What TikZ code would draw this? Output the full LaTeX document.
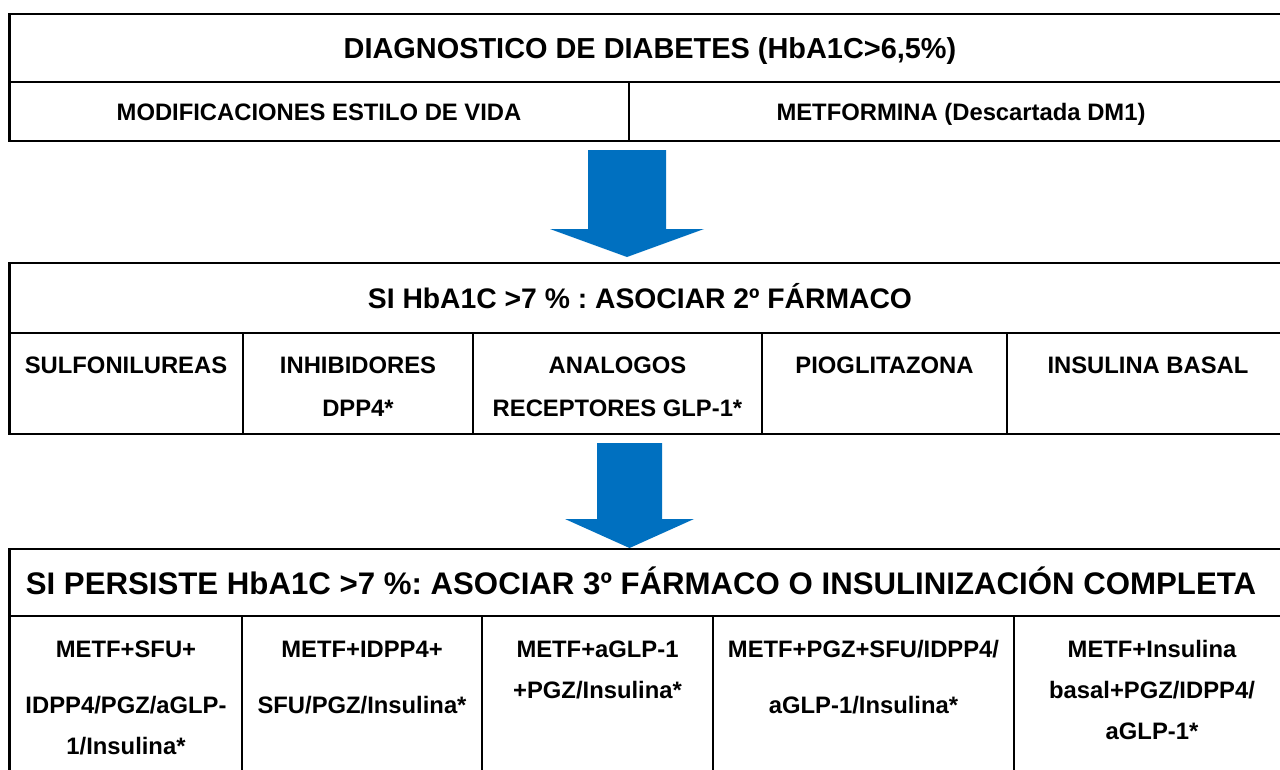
\documentclass[tikz,border=0pt]{standalone}
\usepackage{fontspec}
\setmainfont{Liberation Sans}
\frenchspacing
\definecolor{arrowblue}{RGB}{0,112,192}
\begin{document}
\begin{tikzpicture}[x=1pt,y=-1pt,
  grid/.style={line width=2.8pt, black, line join=miter},
  bigtitle/.style={font=\bfseries\fontsize{#1}{#1}\selectfont, inner sep=0pt, anchor=base},
  rowtext/.style={font=\bfseries\fontsize{23.8}{43}\selectfont, inner sep=0pt, anchor=base},
  celltwo/.style={font=\bfseries\fontsize{23.8}{43}\selectfont, align=center, inner sep=0pt, anchor=north},
  cellthree/.style={font=\bfseries\fontsize{23.8}{41}\selectfont, align=center, inner sep=0pt, anchor=north},
  blockarrow/.style={fill=arrowblue}]
\useasboundingbox (0,0) rectangle (1280,769);
\clip (0,0) rectangle (1280,769);
\fill[white] (0,0) rectangle (1280,769);

% ---------- Table 1 ----------
\draw[grid] (1300,14) -- (9.5,14) -- (9.5,141) -- (1300,141);
\draw[grid] (9.5,82) -- (1300,82);
\draw[grid] (629,82) -- (629,141);
\node[bigtitle=28.9] (diag) at (650,58.3) {DIAGNOSTICO DE DIABETES (HbA1C>6,5\%)};
\node[rowtext] (modif) at (319,120.5) {MODIFICACIONES ESTILO DE VIDA};
\node[rowtext] (metf) at (961,120.5) {METFORMINA (Descartada DM1)};

% ---------- Arrow 1 ----------
\fill[blockarrow] (588,150) -- (666,150) -- (666,229) -- (704,229) -- (627,257) -- (550,229) -- (588,229) -- cycle;

% ---------- Table 2 ----------
\draw[grid] (1300,263) -- (9.5,263) -- (9.5,434) -- (1300,434);
\draw[grid] (9.5,333) -- (1300,333);
\foreach \x in {243,473,762,1007} \draw[grid] (\x,333) -- (\x,434);
\node[bigtitle=28.3] (second) at (640,308) {SI HbA1C >7 \% : ASOCIAR 2º FÁRMACO};
\node[celltwo] (sfu) at (126,356.5) {SULFONILUREAS};
\node[celltwo] (dpp) at (358,356.5) {INHIBIDORES\\DPP4*};
\node[celltwo] (glp) at (617.5,356.5) {ANALOGOS\\RECEPTORES GLP-1*};
\node[celltwo] (pgz) at (884.5,356.5) {PIOGLITAZONA};
\node[celltwo] (ins) at (1148,356.5) {INSULINA BASAL};

% ---------- Arrow 2 ----------
\fill[blockarrow] (597,443) -- (662,443) -- (662,519) -- (694,519) -- (629.5,548) -- (565,519) -- (597,519) -- cycle;

% ---------- Table 3 ----------
\draw[grid] (1300,549) -- (9.5,549) -- (9.5,780);
\draw[grid] (9.5,616) -- (1300,616);
\foreach \x in {242,482,713,1014} \draw[grid] (\x,616) -- (\x,780);
\node[bigtitle=31.2] (third) at (641,594) {SI PERSISTE HbA1C >7 \%: ASOCIAR 3º FÁRMACO O INSULINIZACIÓN COMPLETA};
\node[cellthree] (c1) at (126,640.5) {METF+SFU+\\[15pt]IDPP4/PGZ/aGLP-\\1/Insulina*};
\node[cellthree] (c2) at (362,640.5) {METF+IDPP4+\\[15pt]SFU/PGZ/Insulina*};
\node[cellthree] (c3) at (597.5,640.5) {METF+aGLP-1\\+PGZ/Insulina*};
\node[cellthree] (c4) at (863.5,640.5) {METF+PGZ+SFU/IDPP4/\\[15pt]aGLP-1/Insulina*};
\node[cellthree] (c5) at (1152,640.5) {METF+Insulina\\basal+PGZ/IDPP4/\\aGLP-1*};
\end{tikzpicture}
\end{document}
